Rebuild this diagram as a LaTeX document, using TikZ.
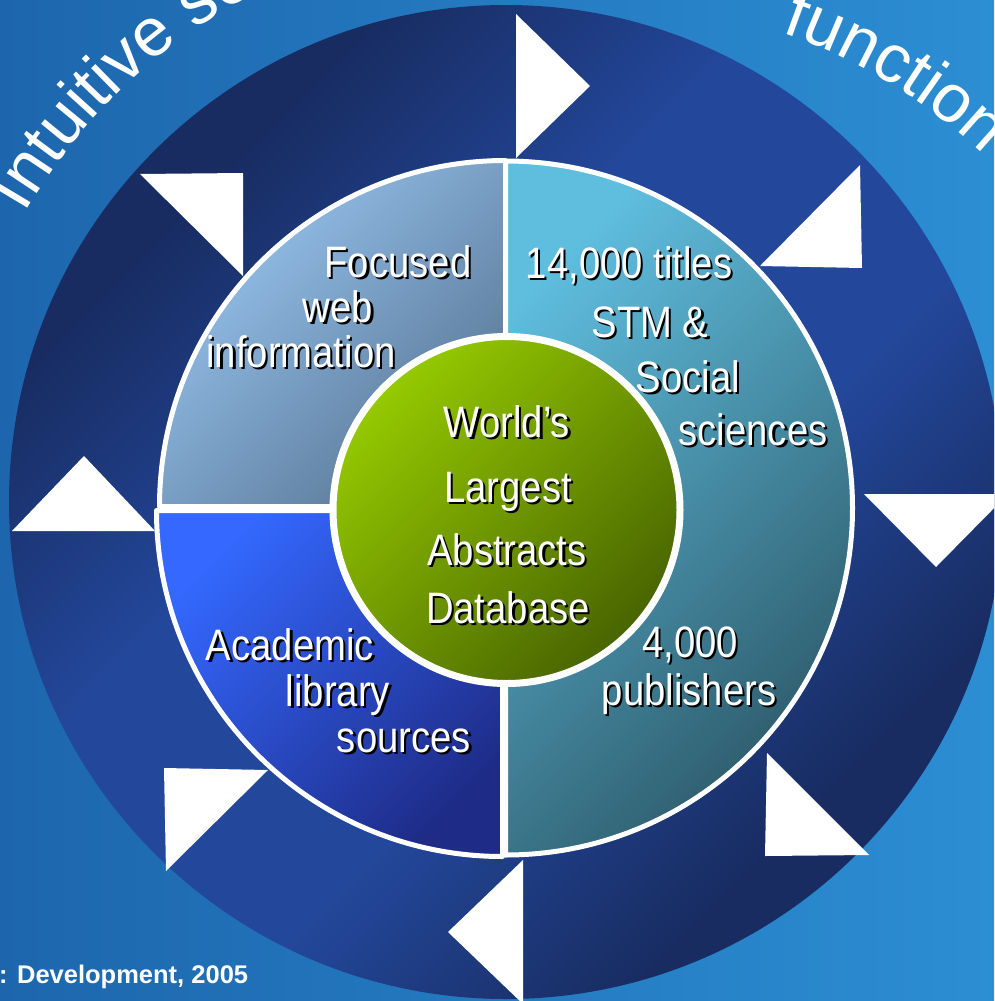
\documentclass[tikz,border=0pt]{standalone}
\usepackage{fontspec}
\setmainfont{Liberation Sans}
\newfontfamily\narrowfont[FakeStretch=0.87]{Liberation Sans}
\usetikzlibrary{decorations.text}
\definecolor{bgL}{HTML}{1D66AD}
\definecolor{bgR}{HTML}{2C8ED3}
\definecolor{ringD}{HTML}{182C61}
\definecolor{ringL}{HTML}{23479A}
\definecolor{tlA}{HTML}{9AC6F2}
\definecolor{tlB}{HTML}{587795}
\definecolor{rhA}{HTML}{5FBDDE}
\definecolor{rhB}{HTML}{2D5A6A}
\definecolor{blA}{HTML}{3468FF}
\definecolor{blB}{HTML}{1E2C88}
\definecolor{gA}{HTML}{96CA00}
\definecolor{gB}{HTML}{486400}
\pgfdeclareverticalshading{ringshade}{100bp}{color(0bp)=(ringD); color(28bp)=(ringD); color(42bp)=(ringL); color(58bp)=(ringL); color(72bp)=(ringD); color(100bp)=(ringD)}
\newcommand\shtxt[1]{\makebox[0pt][l]{\hspace{2.2pt}\raisebox{-2.2pt}{\color{black}#1}}#1}
\tikzset{
  lbl/.style={text=white, font=\narrowfont\fontsize{44}{44}\selectfont, inner sep=0pt, anchor=base},
  tri/.style={fill=white},
  piece/.style={draw=white, line width=5pt, line join=round},
}
\begin{document}
\begin{tikzpicture}[x=1pt,y=-1pt]
\useasboundingbox (0,0) rectangle (994,1001);
\clip (0,0) rectangle (994,1001);
% background
\shade[left color=bgL, right color=bgR] (0,0) rectangle (994,1001);
% arc texts
\begin{scope}[shift={(520,500)}]
\path[decorate, decoration={text along path, text={|\color{white}\fontsize{68}{68}\selectfont|Intuitive se}}]
  (210:572) arc[start angle=210, end angle=262, radius=572];
\end{scope}
\begin{scope}[shift={(600,560)}]
\path[decorate, decoration={text along path, text={|\color{white}\fontsize{68}{68}\selectfont|function}}]
  (289:558) arc[start angle=289, end angle=355, radius=558];
\end{scope}
\node[anchor=base west, inner sep=0pt, text=white, font=\bfseries\fontsize{25.5}{25.5}\selectfont] (src) at (-1,983) {: Development, 2005};
% outer ring
\shade[shading=ringshade, shading angle=45] (506,502) circle[radius=497];
% triangles
\fill[tri] (516,14) -- (516,158) -- (590,86) -- cycle;
\fill[tri] (860,165) -- (862,268) -- (760,266) -- cycle;
\fill[tri] (864,494) -- (1008,494) -- (936,567) -- cycle;
\fill[tri] (767,753) -- (765,856) -- (869,855) -- cycle;
\fill[tri] (523,860) -- (523,1004) -- (448,932) -- cycle;
\fill[tri] (164,768) -- (268,770) -- (166,871) -- cycle;
\fill[tri] (12,531) -- (155,531) -- (84,456) -- cycle;
\fill[tri] (140,174) -- (243,173) -- (243,276) -- cycle;
% quadrants
\path[piece, top color=tlA, bottom color=tlB, shading angle=45]
  (505.5,506.5) -- ++(180:346) arc[start angle=180, end angle=270, radius=346] -- cycle;
\path[piece, top color=blA, bottom color=blB, shading angle=45]
  (502.5,510.5) -- ++(90:346) arc[start angle=90, end angle=180, radius=346] -- cycle;
\path[piece, top color=rhA, bottom color=rhB, shading angle=45]
  (505.5,508) -- ++(-90:347) arc[start angle=-90, end angle=90, radius=347] -- cycle;
% centre
\path[draw=white, line width=7pt, top color=gA, bottom color=gB, shading angle=45] (506.5,510) circle[radius=173.5];
% labels
\node[lbl] (f1) at (398,277) {\shtxt{Focused}};
\node[lbl] (f2) at (338,322) {\shtxt{web}};
\node[lbl] (f3) at (301,367) {\shtxt{information}};
\node[lbl] (t1) at (629,278) {\shtxt{14,000 titles}};
\node[lbl] (t2) at (650,337) {\shtxt{STM \&}};
\node[lbl] (t3) at (688,392) {\shtxt{Social}};
\node[lbl] (t4) at (753,445) {\shtxt{sciences}};
\node[lbl] (p1) at (690,657) {\shtxt{4,000}};
\node[lbl] (p2) at (689,705) {\shtxt{publishers}};
\node[lbl] (a1) at (290,660) {\shtxt{Academic}};
\node[lbl] (a2) at (338,706) {\shtxt{library}};
\node[lbl] (a3) at (404,752) {\shtxt{sources}};
\node[lbl] (c1) at (507,437) {\shtxt{World’s}};
\node[lbl] (c2) at (508,502) {\shtxt{Largest}};
\node[lbl] (c3) at (507,565) {\shtxt{Abstracts}};
\node[lbl] (c4) at (508,623) {\shtxt{Database}};
\end{tikzpicture}
\end{document}
